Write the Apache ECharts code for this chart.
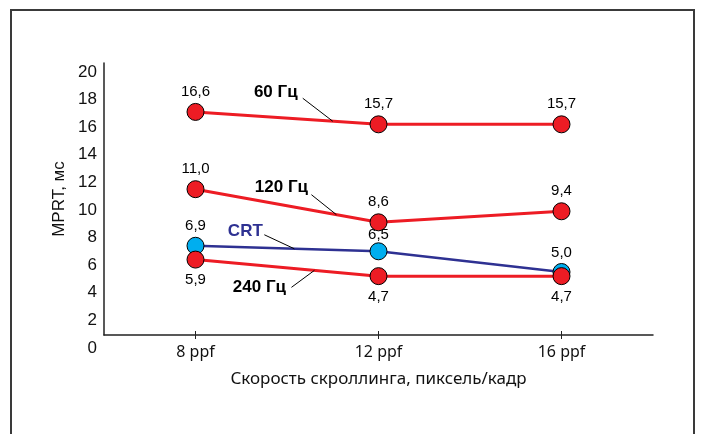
<!DOCTYPE html>
<html>
<head>
<meta charset="utf-8">
<script src="https://cdn.jsdelivr.net/npm/echarts@6/dist/echarts.min.js"></script>
<style>
html,body{margin:0;padding:0;background:#fff;}
#chart{width:701px;height:434px;}
</style>
</head>
<body>
<div id="chart"></div>
<script>
// ---- data ----
var categories = ['8 ppf', '12 ppf', '16 ppf'];
var hz60  = [16.6, 15.7, 15.7];
var hz120 = [11.0, 8.6, 9.4];
var crt   = [6.9, 6.5, 5.0];
var hz240 = [5.9, 4.7, 4.7];
var seriesNames = ['60 Гц', '120 Гц', 'CRT', '240 Гц'];
var yTicks = [0, 2, 4, 6, 8, 10, 12, 14, 16, 18, 20];
var yTitle = 'MPRT, мс';
var xTitle = 'Скорость скроллинга, пиксель/кадр';

var RED = '#ed1c24', BLUE = '#00aeef', NAVY = '#2e3192';
var labelFont = {color: '#000', fontSize: 15, fontFamily: 'Liberation Sans, Arial, sans-serif'};
function fmt(p){ return p.value.toFixed(1).replace('.', ','); }

function mkSeries(name, data, lineColor, fill, pos, dist, special){
  var d = data.map(function(v, i){
    var o = {value: v};
    if (special && special[i] !== undefined) o.label = {distance: special[i]};
    return o;
  });
  return {
    name: name, type: 'line', xAxisIndex: 0, yAxisIndex: 0, data: d,
    symbol: 'circle', symbolSize: 17, showAllSymbol: true,
    lineStyle: {color: lineColor, width: lineColor === RED ? 3 : 2.5},
    itemStyle: {color: fill, borderColor: '#000', borderWidth: 1},
    label: Object.assign({show: true, position: pos, distance: dist, formatter: fmt}, labelFont),
    emphasis: {disabled: true}, animation: false, z: 3
  };
}

var chart = echarts.init(document.getElementById('chart'), null, {renderer: 'canvas'});
var option = {
  animation: false,
  backgroundColor: '#fff',
  grid: [
    {left: 104, right: 48, top: 65, bottom: 93},   // data grid: 0 at y=341, 20 at y=65
    {left: 104, right: 48, top: 63, bottom: 99}    // axis-line frame
  ],
  xAxis: [
    {type: 'category', gridIndex: 0, data: categories, show: false, boundaryGap: true},
    {type: 'category', gridIndex: 1, data: categories, position: 'bottom', boundaryGap: true,
     axisLine: {show: true, lineStyle: {color: '#222', width: 1.5}},
     axisTick: {show: true, alignWithLabel: true, length: 4, lineStyle: {color: '#222', width: 1}},
     axisLabel: {margin: 9, color: '#111', fontSize: 16, fontFamily: 'Noto Sans, sans-serif'},
     name: xTitle, nameLocation: 'middle', nameGap: 36,
     nameTextStyle: {color: '#111', fontSize: 17, fontFamily: 'Noto Sans, sans-serif'}},
    {type: 'category', gridIndex: 1, data: categories, position: 'bottom', offset: 0, boundaryGap: true,
     axisLine: {show: false},
     axisTick: {show: true, inside: true, alignWithLabel: true, length: 4, lineStyle: {color: '#222', width: 1}},
     axisLabel: {show: false}}
  ],
  yAxis: [
    {type: 'value', gridIndex: 0, min: yTicks[0], max: yTicks[yTicks.length-1], interval: 2,
     axisLine: {show: false}, axisTick: {show: false}, splitLine: {show: false},
     axisLabel: {margin: 7, verticalAlign: 'top', lineHeight: 14, color: '#111', fontSize: 17,
                 fontFamily: 'Liberation Sans, Arial, sans-serif'}},
    {type: 'value', gridIndex: 1, min: 0, max: 20,
     axisLine: {show: true, lineStyle: {color: '#222', width: 1.5}},
     axisTick: {show: false}, splitLine: {show: false}, axisLabel: {show: false},
     name: yTitle, nameLocation: 'middle', nameGap: 36, nameRotate: 90,
     nameTextStyle: {color: '#111', fontSize: 17, fontFamily: 'Liberation Sans, Arial, sans-serif'}}
  ],
  series: [
    mkSeries(seriesNames[0], hz60, RED, RED, 'top', 4),
    mkSeries(seriesNames[1], hz120, RED, RED, 'top', 4),
    mkSeries(seriesNames[2], crt, NAVY, BLUE, 'top', 3, {1: 0}),
    mkSeries(seriesNames[3], hz240, RED, RED, 'bottom', 4)
  ]
};
chart.setOption(option);

// annotations: series-name labels with leader lines anchored to the drawn lines
var notes = [
  {s: 0, t: 0.75, end: [-30, -23], txt: [-57, -29], color: '#000'},
  {s: 1, t: 0.77, end: [-25, -20], txt: [-55, -27], color: '#000'},
  {s: 2, t: 0.54, end: [-30, -14], txt: [-49, -17], color: NAVY},
  {s: 3, t: 0.65, end: [-23, 17],  txt: [-55, 17],  color: '#000'}
];
var dataArr = [hz60, hz120, crt, hz240];
var gfx = [{
  type: 'rect', silent: true, z: 0,
  shape: {x: 11, y: 10, width: 683, height: 440},
  style: {fill: null, stroke: '#3a3a3a', lineWidth: 2}
}];
notes.forEach(function(n){
  var d = dataArr[n.s];
  var a = chart.convertToPixel({seriesIndex: n.s}, [0, d[0]]);
  var b = chart.convertToPixel({seriesIndex: n.s}, [1, d[1]]);
  var px = a[0] + (b[0]-a[0]) * n.t, py = a[1] + (b[1]-a[1]) * n.t;
  gfx.push({type: 'line', silent: true, z: 5,
    shape: {x1: px, y1: py, x2: px + n.end[0], y2: py + n.end[1]},
    style: {stroke: '#000', lineWidth: 1}});
  gfx.push({type: 'text', silent: true, z: 5,
    x: px + n.txt[0], y: py + n.txt[1],
    style: {text: seriesNames[n.s], fill: n.color, font: 'bold 17px "Liberation Sans", Arial, sans-serif',
            align: 'center', verticalAlign: 'middle'}});
});
chart.setOption({graphic: gfx});
</script>
</body>
</html>
